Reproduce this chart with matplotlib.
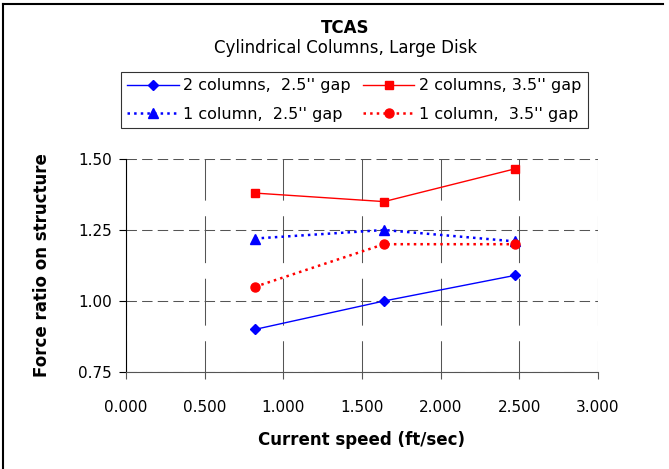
import matplotlib
matplotlib.use("Agg")
import matplotlib.pyplot as plt
from matplotlib.lines import Line2D

plt.rcParams['font.family'] = ['DejaVu Sans']

# data
speed = [0.82, 1.64, 2.47]
two_col_25 = [0.90, 1.00, 1.09]
two_col_35 = [1.38, 1.35, 1.465]
one_col_25 = [1.22, 1.25, 1.21]
one_col_35 = [1.05, 1.20, 1.20]

x_ticks = [0.0, 0.5, 1.0, 1.5, 2.0, 2.5, 3.0]
y_ticks = [0.75, 1.00, 1.25, 1.50]

fig = plt.figure(figsize=(6.69, 4.69), dpi=100)
ax = fig.add_axes([0.1883, 0.2068, 0.7056, 0.4542])

l1, = ax.plot(speed, two_col_25, '-', color='#0000FF', marker='D', ms=5.5, lw=1,
              label="2 columns,  2.5'' gap")
l2, = ax.plot(speed, two_col_35, '-', color='#FF0000', marker='s', ms=6, lw=1,
              label="2 columns, 3.5'' gap")
l3, = ax.plot(speed, one_col_25, ':', color='#0000FF', marker='^', ms=7, lw=1.8,
              label="1 column,  2.5'' gap")
l4, = ax.plot(speed, one_col_35, ':', color='#FF0000', marker='o', ms=6.5, lw=1.8,
              label="1 column,  3.5'' gap")

ax.set_xlim(0, 3.0)
ax.set_ylim(0.75, 1.50)
ax.set_xticks(x_ticks)
ax.set_xticklabels([f'{v:.3f}' for v in x_ticks], fontsize=11)
ax.set_yticks(y_ticks)
ax.set_yticklabels([f'{v:.2f}' for v in y_ticks], fontsize=11)
ax.tick_params(axis='y', direction='out', length=5, pad=5)
ax.tick_params(axis='x', direction='out', length=5, pad=15, color='#555555')

# long dashes on the vertical grid (starting with a dash at the top), short on the horizontal
ax.xaxis.grid(True, color='#555555', lw=0.75, ls=(15, (45, 15)))
ax.yaxis.grid(True, color='#555555', lw=0.75, ls=(0, (10, 5)))
ax.set_axisbelow(True)
for s in ['top', 'right']:
    ax.spines[s].set_visible(False)
ax.spines['left'].set_linewidth(0.8)
ax.spines['bottom'].set_color('#555555')

ax.set_xlabel('Current speed (ft/sec)', fontsize=12, fontweight='bold', labelpad=12)
ax.set_ylabel('Force ratio on structure', fontsize=12, fontweight='bold', labelpad=20)

fig.text(0.516, 1 - 28 / 469, 'TCAS', ha='center', va='center', fontsize=12, fontweight='bold')
fig.text(0.516, 1 - 48 / 469, 'Cylindrical Columns, Large Disk', ha='center', va='center',
         fontsize=12)

# row-wise legend order: (2 col 2.5, 2 col 3.5) / (1 col 2.5, 1 col 3.5)
leg = fig.legend(handles=[l1, l3, l2, l4], ncol=2, loc='center', mode='expand',
                 bbox_to_anchor=(121 / 669, 1 - 128 / 469, 467 / 669, 56 / 469),
                 fontsize=11.5, frameon=True, fancybox=False, edgecolor='black',
                 handlelength=3.2, handletextpad=0.3, borderpad=0.4,
                 labelspacing=0.85, borderaxespad=0)
leg.get_frame().set_linewidth(0.8)

# chart frame: only the top and left edges fall inside the picture
fig.add_artist(Line2D([3 / 669, 663 / 669], [1 - 4 / 469, 1 - 4 / 469],
                      transform=fig.transFigure, color='black', lw=1.5))
fig.add_artist(Line2D([3 / 669, 3 / 669], [0, 1 - 4 / 469],
                      transform=fig.transFigure, color='black', lw=1.5))

fig.savefig('out.png', dpi=100)
